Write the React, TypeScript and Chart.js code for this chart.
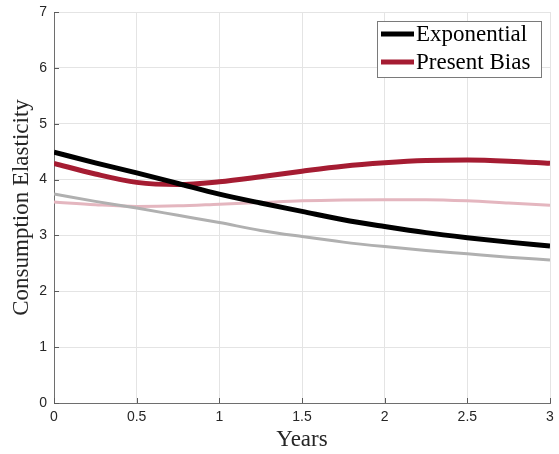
import React, { useEffect, useRef } from "react";
import { Chart, registerables } from "chart.js";

Chart.register(...registerables);

const years = [0, 0.25, 0.5, 0.75, 1, 1.25, 1.5, 1.75, 2, 2.25, 2.5, 2.75, 3];
const exponential = [4.49, 4.3, 4.12, 3.93, 3.74, 3.58, 3.43, 3.28, 3.16, 3.05, 2.96, 2.88, 2.81];
const presentBias = [4.29, 4.1, 3.95, 3.91, 3.96, 4.05, 4.15, 4.24, 4.3, 4.34, 4.35, 4.33, 4.29];
const exponentialLight = [3.74, 3.61, 3.49, 3.36, 3.23, 3.09, 2.98, 2.88, 2.8, 2.73, 2.67, 2.61, 2.56];
const presentBiasLight = [3.6, 3.55, 3.52, 3.53, 3.56, 3.59, 3.62, 3.635, 3.64, 3.64, 3.62, 3.58, 3.54];

const legendLabels = ["Exponential", "Present Bias"];
const xTitle = "Years";
const yTitle = "Consumption Elasticity";

const BLACK = "#000000";
const CRIMSON = "#A51C32";
const GRAY = "#B0B0B0";
const PINK = "#E4B6BF";
const SERIF = "'Liberation Serif', 'Times New Roman', serif";
const SANS = "'Liberation Sans', Arial, sans-serif";

const toPts = (ys: number[]) => ys.map((y, i) => ({ x: years[i], y }));

const decorPlugin = {
  id: "decor",
  afterDraw(chart: any) {
    const ctx = chart.ctx;
    const { chartArea } = chart;
    const xs = chart.scales.x;
    const ys = chart.scales.y;
    ctx.save();
    ctx.strokeStyle = "#5a5a5a";
    ctx.lineWidth = 1;
    xs.ticks.forEach((t: any) => {
      const px = Math.round(xs.getPixelForValue(t.value)) + 0.5;
      ctx.beginPath();
      ctx.moveTo(px, chartArea.bottom);
      ctx.lineTo(px, chartArea.bottom - 5);
      ctx.stroke();
    });
    ys.ticks.forEach((t: any) => {
      const py = Math.round(ys.getPixelForValue(t.value)) + 0.5;
      ctx.beginPath();
      ctx.moveTo(chartArea.left, py);
      ctx.lineTo(chartArea.left + 5, py);
      ctx.stroke();
    });
    const bx = 377.5, by = 21.5, bw = 164, bh = 56;
    ctx.fillStyle = "#ffffff";
    ctx.fillRect(bx, by, bw, bh);
    ctx.strokeStyle = "#7a7a7a";
    ctx.lineWidth = 1;
    ctx.strokeRect(bx, by, bw, bh);
    const items = [
      { label: legendLabels[0], color: BLACK, y: 34 },
      { label: legendLabels[1], color: CRIMSON, y: 62 },
    ];
    items.forEach((it) => {
      ctx.strokeStyle = it.color;
      ctx.lineWidth = 5;
      ctx.beginPath();
      ctx.moveTo(381, it.y);
      ctx.lineTo(414, it.y);
      ctx.stroke();
      ctx.fillStyle = "#000";
      ctx.font = `23px ${SERIF}`;
      ctx.textBaseline = "middle";
      ctx.textAlign = "left";
      ctx.fillText(it.label, 416, it.y + 1);
    });
    ctx.restore();
  },
};

export default function App() {
  const ref = useRef<HTMLCanvasElement>(null);
  useEffect(() => {
    if (!ref.current) return;
    const chart = new Chart(ref.current, {
      type: "line",
      data: {
        datasets: [
          { label: legendLabels[0], data: toPts(exponential), borderColor: BLACK, borderWidth: 5, order: 0 },
          { label: legendLabels[1], data: toPts(presentBias), borderColor: CRIMSON, borderWidth: 5, order: 1 },
          { label: "Exponential (alt)", data: toPts(exponentialLight), borderColor: GRAY, borderWidth: 3, order: 2 },
          { label: "Present Bias (alt)", data: toPts(presentBiasLight), borderColor: PINK, borderWidth: 3, order: 3 },
        ].map((d) => ({ ...d, pointRadius: 0, fill: false, cubicInterpolationMode: "monotone" as const })),
      },
      options: {
        responsive: false,
        animation: false,
        devicePixelRatio: 1,
        layout: { padding: { left: 0, top: 12, right: 9, bottom: 0 } },
        plugins: { legend: { display: false }, tooltip: { enabled: false } },
        scales: {
          x: {
            type: "linear",
            min: 0,
            max: 3,
            afterFit: (s: any) => { s.height = 51; s.paddingLeft = 0; s.paddingRight = 0; },
            ticks: { stepSize: 0.5, padding: 6, color: "#262626", font: { family: SANS, size: 14 }, maxRotation: 0, callback: (v: any) => String(v) },
            grid: { color: "#e4e4e4", lineWidth: 1, drawTicks: false },
            border: { display: true, color: "#6e6e6e", width: 1 },
            title: { display: true, text: xTitle, color: "#262626", font: { family: SERIF, size: 23 }, padding: { top: 0, bottom: 0 } },
          },
          y: {
            type: "linear",
            min: 0,
            max: 7,
            afterFit: (s: any) => { s.width = 54; s.paddingTop = 0; s.paddingBottom = 0; },
            ticks: { stepSize: 1, padding: 7, color: "#262626", font: { family: SANS, size: 14 }, callback: (v: any) => String(v) },
            grid: { color: "#e4e4e4", lineWidth: 1, drawTicks: false },
            border: { display: true, color: "#6e6e6e", width: 1 },
            title: { display: true, text: yTitle, color: "#262626", font: { family: SERIF, size: 23 }, padding: { top: 8, bottom: 0 } },
          },
        },
      },
      plugins: [decorPlugin],
    });
    return () => chart.destroy();
  }, []);
  return (
    <div style={{ position: "fixed", left: 0, top: 0, width: 559, height: 454, background: "#fff" }}>
      <canvas ref={ref} width={559} height={454} style={{ width: 559, height: 454, display: "block" }} />
    </div>
  );
}
